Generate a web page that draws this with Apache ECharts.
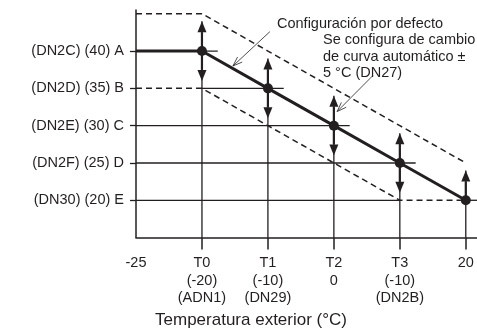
<!DOCTYPE html>
<html>
<head>
<meta charset="utf-8">
<script src="https://cdn.jsdelivr.net/npm/echarts@6/dist/echarts.min.js"></script>
<style>
html,body{margin:0;padding:0;background:#fff;}
#chart{width:477px;height:334px;}
</style>
</head>
<body>
<div id="chart"></div>
<script>
// ---- data ----
const xLabels = ['-25', 'T0\n(-20)\n(ADN1)', 'T1\n(-10)\n(DN29)', 'T2\n0', 'T3\n(-10)\n(DN2B)', '20'];
const xPos = [0, 1, 2, 3, 4, 5];
const yLevels = [40, 35, 30, 25, 20];
const yLabels = ['(DN2C) (40) A', '(DN2D) (35) B', '(DN2E) (30) C', '(DN2F) (25) D', '(DN30) (20) E'];
const defaultCurve = [40, 40, 35, 30, 25, 20];
const upperCurve = [45, 45, 40, 35, 30, 25];
const lowerCurve = [35, 35, 30, 25, 20, 20];
const arrowUp = [false, true, true, true, true, true];
const arrowDown = [false, true, true, true, true, false];
const shiftRange = 5;
const note1 = 'Configuración por defecto';
const note2 = 'Se configura de cambio\nde curva automático ±\n5 °C (DN27)';
// leader lines: [endX, endY, startX, startY] in data space
const leaders = [[1.47, 38.0, 2.03, 42.6], [3.05, 31.9, 3.59, 36.7]];

// ---- styles ----
const INK = '#231f20';
const FONT = 'Liberation Sans, Arial, sans-serif';
const Y_MIN = 15, Y_MAX = 45.5;
const X_MIN = 0, X_MAX = 5.17;
const overshoot = 0.24;

const chart = echarts.init(document.getElementById('chart'), null, {renderer: 'canvas'});

function hGridItem(params, api) {
  const L = api.value(1);
  let end;
  if (L === Math.min.apply(null, defaultCurve)) end = X_MAX;
  else end = defaultCurve.lastIndexOf(L) + overshoot;
  const cuts = [];
  for (let i = 0; i < lowerCurve.length - 1; i++) {
    if (lowerCurve[i] === L && lowerCurve[i + 1] === L) cuts.push([xPos[i], xPos[i + 1]]);
  }
  let segs = [[X_MIN, end]];
  cuts.forEach(c => {
    const out = [];
    segs.forEach(s => {
      if (c[1] <= s[0] || c[0] >= s[1]) { out.push(s); return; }
      if (c[0] > s[0]) out.push([s[0], c[0]]);
      if (c[1] < s[1]) out.push([c[1], s[1]]);
    });
    segs = out;
  });
  return {
    type: 'group',
    children: segs.map(s => {
      const a = api.coord([s[0], L]), b = api.coord([s[1], L]);
      return {type: 'line', shape: {x1: a[0], y1: a[1], x2: b[0], y2: b[1]},
        style: {stroke: INK, lineWidth: 1.3}};
    })
  };
}

function arrowItem(params, api) {
  const i = api.value(0), v = api.value(1);
  const base = api.coord([i, Y_MIN]);
  const p = api.coord([i, v]);
  const len = shiftRange * 0.8;
  const top = arrowUp[i] ? api.coord([i, v + len]) : p;
  const bot = arrowDown[i] ? api.coord([i, v - len]) : p;
  const children = [{type: 'line', shape: {x1: base[0], y1: base[1], x2: top[0], y2: top[1]},
    style: {stroke: INK, lineWidth: 1.3}}];
  const hw = 4.5, hl = 11;
  if (arrowUp[i]) {
    children.push({type: 'line', shape: {x1: p[0], y1: p[1], x2: top[0], y2: top[1] + hl},
      style: {stroke: INK, lineWidth: 2.2}});
    children.push({type: 'polygon', shape: {points: [[top[0], top[1]], [top[0] - hw, top[1] + hl], [top[0] + hw, top[1] + hl]]},
      style: {fill: INK}});
  }
  if (arrowDown[i]) {
    children.push({type: 'line', shape: {x1: p[0], y1: p[1], x2: bot[0], y2: bot[1] - hl},
      style: {stroke: INK, lineWidth: 2.2}});
    children.push({type: 'polygon', shape: {points: [[bot[0], bot[1]], [bot[0] - hw, bot[1] - hl], [bot[0] + hw, bot[1] - hl]]},
      style: {fill: INK}});
  }
  return {type: 'group', children: children};
}

function leaderItem(params, api) {
  const e = api.coord([api.value(0), api.value(1)]);
  const s = api.coord([api.value(2), api.value(3)]);
  const ang = Math.atan2(e[1] - s[1], e[0] - s[0]);
  const hl = 10, ha = 0.35;
  const p1 = [e[0] - hl * Math.cos(ang - ha), e[1] - hl * Math.sin(ang - ha)];
  const p2 = [e[0] - hl * Math.cos(ang + ha), e[1] - hl * Math.sin(ang + ha)];
  return {type: 'group', children: [
    {type: 'line', shape: {x1: s[0], y1: s[1], x2: e[0], y2: e[1]}, style: {stroke: INK, lineWidth: 0.8}},
    {type: 'polyline', shape: {points: [p1, e, p2]}, style: {stroke: INK, lineWidth: 0.8, fill: null}}
  ]};
}

const option = {
  animation: false,
  backgroundColor: '#fff',
  grid: {left: 136, right: 0, top: 10, bottom: 93, containLabel: false},
  textStyle: {fontFamily: FONT},
  xAxis: {
    type: 'value', min: X_MIN, max: X_MAX, interval: 1,
    axisLine: {show: true, onZero: false, lineStyle: {color: INK, width: 1.5}},
    axisTick: {show: true, customValues: xPos.slice(1), length: 12, lineStyle: {color: INK, width: 1.5}},
    axisLabel: {customValues: xPos, formatter: v => xLabels[Math.round(v)] || '',
      margin: 17, fontSize: 14.5, lineHeight: 17.5, color: INK, fontFamily: FONT},
    splitLine: {show: false},
    name: 'Temperatura exterior (°C)', nameLocation: 'middle', nameGap: 72,
    nameTextStyle: {fontSize: 17, color: INK, fontFamily: FONT, padding: [0, 111, 0, 0]}
  },
  yAxis: {
    type: 'value', min: Y_MIN, max: Y_MAX, interval: 5,
    axisLine: {show: true, onZero: false, lineStyle: {color: INK, width: 1.5}},
    axisTick: {show: true, customValues: yLevels, length: 6, lineStyle: {color: INK, width: 1.3}},
    axisLabel: {customValues: yLevels, formatter: v => yLabels[yLevels.indexOf(v)] || '',
      margin: 12, fontSize: 14.5, color: INK, fontFamily: FONT},
    splitLine: {show: false}
  },
  graphic: [
    {type: 'text', left: 277, top: 16, style: {text: note1, font: '14.5px ' + FONT, fill: INK}},
    {type: 'text', left: 323, top: 32, style: {text: note2, font: '14.5px ' + FONT, fill: INK, lineHeight: 16.5}}
  ],
  series: [
    {type: 'custom', name: 'hgrid', renderItem: hGridItem, z: 1, silent: true,
      data: yLevels.map(l => [X_MIN, l])},
    {type: 'line', name: 'upper', data: upperCurve.map((v, i) => [xPos[i], v]), symbol: 'none', z: 3,
      lineStyle: {color: INK, width: 1.5, type: [6, 4]}},
    {type: 'line', name: 'lower', data: lowerCurve.map((v, i) => [xPos[i], v]), symbol: 'none', z: 3,
      lineStyle: {color: INK, width: 1.5, type: [6, 4]}},
    {type: 'custom', name: 'arrows', renderItem: arrowItem, z: 4, silent: true,
      data: defaultCurve.map((v, i) => [xPos[i], v]).slice(1)},
    {type: 'line', name: 'default', z: 5,
      data: defaultCurve.map((v, i) => i === 0 ? {value: [xPos[i], v], symbol: 'none'} : [xPos[i], v]),
      symbol: 'circle', symbolSize: 10, showSymbol: true,
      itemStyle: {color: INK}, lineStyle: {color: INK, width: 3}},
    {type: 'custom', name: 'leaders', renderItem: leaderItem, z: 6, silent: true,
      encode: {x: [0, 2], y: [1, 3]}, data: leaders}
  ]
};
chart.setOption(option);
</script>
</body>
</html>
